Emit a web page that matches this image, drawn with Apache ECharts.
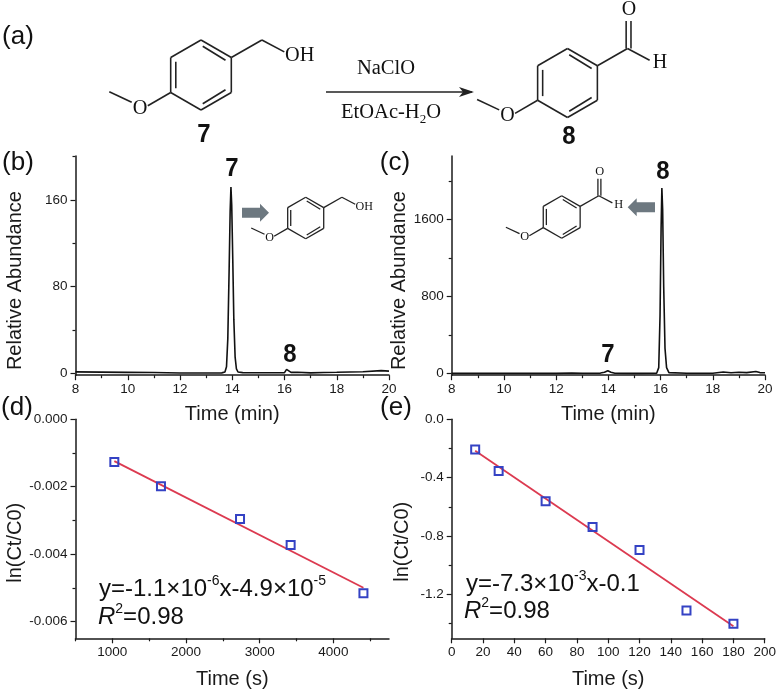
<!DOCTYPE html>
<html>
<head>
<meta charset="utf-8">
<style>
  html, body { margin: 0; padding: 0; background: #fff; }
  #main { width: 779px; height: 692px; }
</style>
<script src="https://cdn.jsdelivr.net/npm/echarts@6/dist/echarts.min.js"></script>
</head>
<body>
<div id="main"></div>
<script>
// chromatogram (b)
var timeB = [8, 9, 10, 11, 12, 13, 13.6, 13.72, 13.78, 13.83, 13.88, 13.92, 13.95, 13.98, 14.02, 14.06, 14.11, 14.16, 14.22, 14.4, 15, 16, 16.03, 16.08, 16.15, 16.25, 16.5, 17, 17.5, 18, 19, 19.7, 20];
var abundanceB = [1.3, 1.1, 0.9, 0.7, 0.3, 0.3, 0.4, 1.2, 6, 32, 95, 150, 172, 155, 105, 50, 15, 4, 1.2, 0.6, 0.5, 0.6, 1.8, 3.6, 1.8, 0.9, 1, 0.4, 0.8, 1, 1.5, 2.5, 2];
// chromatogram (c)
var timeC = [8, 10, 12, 12.6, 13, 13.7, 13.85, 13.98, 14.1, 14.25, 15, 15.85, 15.93, 15.98, 16.02, 16.05, 16.08, 16.12, 16.17, 16.23, 16.32, 17, 18, 18.4, 18.7, 19, 19.3, 19.65, 19.8, 20];
var abundanceC = [0, 0, 0, 4, 2, 3, 12, 28, 12, 2, 0, 2, 60, 600, 1500, 1925, 1700, 900, 260, 60, 8, 2, 2, 14, 6, 12, 8, 20, 8, 6];
// kinetics (d)
var timeD = [1027, 1660, 2733, 3420, 4408];
var lnD = [-0.00127, -0.00199, -0.00296, -0.00373, -0.00516];
var fitTimeD = [1027, 4408];
var fitLnD = [-0.00124, -0.0050];
// kinetics (e)
var timeE = [15, 30, 60, 90, 120, 150, 180];
var lnE = [-0.206, -0.354, -0.562, -0.738, -0.896, -1.31, -1.40];
var fitTimeE = [15, 180];
var fitLnE = [-0.215, -1.417];
// ticks
var ticksXB = [8, 10, 12, 14, 16, 18, 20];
var minorXB = [9, 11, 13, 15, 17, 19];
var ticksYB = [0, 80, 160];
var minorYB = [40, 120, 200];
var ticksYC = [0, 800, 1600];
var minorYC = [400, 1200, 2000];
var ticksXD = [1000, 2000, 3000, 4000];
var minorXD = [500, 1500, 2500, 3500, 4500];
var ticksYD = [0, -0.002, -0.004, -0.006];
var minorYD = [-0.001, -0.003, -0.005];
var ticksXE = [0, 20, 40, 60, 80, 100, 120, 140, 160, 180, 200];
var ticksYE = [0, -0.4, -0.8, -1.2];
var minorYE = [-0.2, -0.6, -1.0, -1.4];

var SANS = '"Liberation Sans", Arial, sans-serif';
var SERIF = '"Liberation Serif", "Times New Roman", serif';
var INK = '#1a1a1a';
var BLUE = '#3442c4';
var RED = '#dc3a50';
var GREY = '#6d7880';

var panels = [
  { left: 75.5, top: 156, width: 313.5, height: 219.2, xMin: 8, xMax: 20, yMin: -1.75, yMax: 200.6,
    xTicks: ticksXB, xMinor: minorXB, yTicks: ticksYB, yMinor: minorYB, xName: 'Time (min)', xGap: 29, yName: 'Relative Abundance', yGap: 50, yPad: 30, digits: 0 },
  { left: 451.7, top: 156, width: 313.3, height: 219.2, xMin: 8, xMax: 20, yMin: -19, yMax: 2258,
    xTicks: ticksXB, xMinor: minorXB, yTicks: ticksYC, yMinor: minorYC, xName: 'Time (min)', xGap: 29, yName: 'Relative Abundance', yGap: 37, yPad: 30, digits: 0 },
  { left: 75.5, top: 419.3, width: 313.5, height: 219, xMin: 500, xMax: 4755, yMin: -0.0065, yMax: 0,
    xTicks: ticksXD, xMinor: minorXD, yTicks: ticksYD, yMinor: minorYD, xName: 'Time (s)', xGap: 31, yName: 'ln(Ct/C0)', yGap: 49, yPad: 28, digits: 3 },
  { left: 451.7, top: 419.3, width: 313.3, height: 219, xMin: 0, xMax: 200, yMin: -1.5, yMax: 0,
    xTicks: ticksXE, xMinor: [], yTicks: ticksYE, yMinor: minorYE, xName: 'Time (s)', xGap: 31, yName: 'ln(Ct/C0)', yGap: 39, yPad: 26, digits: 1 }
];

var grids = [], xAxes = [], yAxes = [];
panels.forEach(function (p, i) {
  grids.push({ left: p.left, top: p.top, width: p.width, height: p.height });
  var line = { show: true, onZero: false, lineStyle: { color: INK, width: 1.5 } };
  // main axis carries line, labels and long ticks
  xAxes.push({
    type: 'value', gridIndex: i, min: p.xMin, max: p.xMax, splitLine: { show: false },
    axisLine: line,
    axisTick: { show: true, length: 5, customValues: p.xTicks, lineStyle: { color: INK, width: 1.2 } },
    axisLabel: {
      customValues: p.xTicks, margin: 7, color: INK, fontFamily: SANS, fontSize: 13.5,
      formatter: function (v) { return String(v); }
    },
    name: p.xName, nameLocation: 'middle', nameGap: p.xGap,
    nameTextStyle: { color: INK, fontFamily: SANS, fontSize: 20 }
  });
  yAxes.push({
    type: 'value', gridIndex: i, min: p.yMin, max: p.yMax, splitLine: { show: false },
    axisLine: line,
    axisTick: { show: true, length: 5, customValues: p.yTicks, lineStyle: { color: INK, width: 1.2 } },
    axisLabel: {
      customValues: p.yTicks, margin: 8, color: INK, fontFamily: SANS, fontSize: 13.5,
      formatter: function (v) { return Number(v).toFixed(p.digits); }
    },
    name: p.yName, nameLocation: 'middle', nameGap: p.yGap,
    nameTextStyle: { color: INK, fontFamily: SANS, fontSize: 20, padding: [0, p.yPad, 0, 0] }
  });
  // second axis on the same grid only draws the short ticks
  xAxes.push({
    type: 'value', gridIndex: i, min: p.xMin, max: p.xMax, position: 'bottom', splitLine: { show: false },
    axisLine: { show: false, onZero: false }, axisLabel: { show: false },
    axisTick: { show: p.xMinor.length > 0, length: 3, customValues: p.xMinor, lineStyle: { color: INK, width: 1.2 } }
  });
  yAxes.push({
    type: 'value', gridIndex: i, min: p.yMin, max: p.yMax, position: 'left', splitLine: { show: false },
    axisLine: { show: false, onZero: false }, axisLabel: { show: false },
    axisTick: { show: true, length: 3, customValues: p.yMinor, lineStyle: { color: INK, width: 1.2 } }
  });
});

function zip(a, b) {
  return a.map(function (v, i) { return [v, b[i]]; });
}
function trace(idx, xs, ys) {
  return { type: 'line', xAxisIndex: idx * 2, yAxisIndex: idx * 2, data: zip(xs, ys), showSymbol: false, symbol: 'none',
    lineStyle: { color: '#111', width: 1.6 }, animation: false };
}
function fit(idx, xs, ys) {
  return { type: 'line', xAxisIndex: idx * 2, yAxisIndex: idx * 2, data: zip(xs, ys), showSymbol: false, symbol: 'none',
    lineStyle: { color: RED, width: 1.8 }, animation: false };
}
function points(idx, xs, ys) {
  return { type: 'scatter', xAxisIndex: idx * 2, yAxisIndex: idx * 2, data: zip(xs, ys), symbol: 'rect', symbolSize: 8,
    itemStyle: { color: 'rgba(0,0,0,0)', borderColor: BLUE, borderWidth: 2, opacity: 1 }, z: 3, animation: false };
}

// small helpers for the drawn annotations
function seg(x1, y1, x2, y2, w) {
  return { type: 'line', shape: { x1: x1, y1: y1, x2: x2, y2: y2 }, style: { stroke: '#222', lineWidth: w }, silent: true };
}
function label(x, y, text, size, opts) {
  opts = opts || {};
  return { type: 'text', x: x, y: y, silent: true, scaleX: opts.scaleX || 1, style: {
    text: text, fill: opts.fill || '#111', fontFamily: opts.family || SANS, fontSize: size,
    fontWeight: opts.weight || 'normal', align: opts.align || 'center', verticalAlign: 'middle', rich: opts.rich
  } };
}
// hexagon with one vertex up, sizes in ring radius units
function molecule(cx, cy, r, kind) {
  var w = Math.max(1.3, r / 22), out = [];
  function L(a, b, c, d) { out.push(seg(cx + a * r, cy + b * r, cx + c * r, cy + d * r, w)); }
  var v = [[0, -1], [0.866, -0.5], [0.866, 0.5], [0, 1], [-0.866, 0.5], [-0.866, -0.5]];
  for (var i = 0; i < 6; i++) {
    var n = v[(i + 1) % 6];
    L(v[i][0], v[i][1], n[0], n[1]);
  }
  // inner double bonds
  L(0.05, -0.82, 0.7, -0.42);
  L(0.7, 0.42, 0.05, 0.82);
  L(-0.72, 0.38, -0.72, -0.38);
  var sz = r * 0.58, serif = { family: SERIF };
  // methoxy
  L(-0.866, 0.5, -1.52, 0.88);
  L(-1.98, 0.78, -2.62, 0.48);
  out.push(label(cx - 1.74 * r, cy + 0.95 * r, 'O', sz, serif));
  L(0.866, -0.5, 1.74, -1);
  if (kind === 'alcohol') {
    L(1.74, -1, 2.38, -0.66);
    out.push(label(cx + 2.4 * r, cy - 0.55 * r, 'OH', sz, { family: SERIF, align: 'left' }));
  } else {
    L(1.7, -1, 1.7, -1.8);
    L(1.84, -1, 1.84, -1.8);
    L(1.74, -1, 2.38, -0.66);
    out.push(label(cx + 1.78 * r, cy - 2.12 * r, 'O', sz, serif));
    out.push(label(cx + 2.68 * r, cy - 0.58 * r, 'H', sz, serif));
  }
  return out;
}
function blockArrow(tailX, tipX, y) {
  var d = tipX > tailX ? 1 : -1, headX = tipX - d * 9;
  return { type: 'polygon', silent: true, style: { fill: GREY }, shape: { points: [
    [tailX, y - 5], [headX, y - 5], [headX, y - 9], [tipX, y], [headX, y + 9], [headX, y + 5], [tailX, y + 5]
  ] } };
}

var eqRich = {
  sup: { fontSize: 14, fontFamily: SANS, fill: '#111', verticalAlign: 'top', lineHeight: 30 },
  base: { fontSize: 24, fontFamily: SANS, fill: '#111', lineHeight: 30 },
  it: { fontSize: 24, fontFamily: SANS, fontStyle: 'italic', fill: '#111', lineHeight: 30 }
};
var bold = { weight: 'bold', scaleX: 0.92 };

var extras = [];
extras.push(label(18, 37, '(a)', 26, {}));
extras.push(label(18, 163, '(b)', 26, {}));
extras.push(label(395, 163, '(c)', 26, {}));
extras.push(label(17, 408, '(d)', 26, {}));
extras.push(label(396, 408, '(e)', 26, {}));
extras.push(label(204, 135, '7', 26, bold));
extras.push(label(569, 137, '8', 26, bold));
extras.push(label(232, 169, '7', 26, bold));
extras.push(label(290, 355, '8', 26, bold));
extras.push(label(663, 172, '8', 26, bold));
extras.push(label(608, 355, '7', 26, bold));
extras.push(label(386, 69, 'NaClO', 20.5, { family: SERIF }));
extras.push(label(391, 113, '{b|EtOAc-H}{s|2}{b|O}', 20.5, { family: SERIF, rich: {
  b: { fontFamily: SERIF, fontSize: 20.5, fill: '#111', lineHeight: 26 },
  s: { fontFamily: SERIF, fontSize: 13, fill: '#111', verticalAlign: 'bottom', lineHeight: 26 }
} }));
extras.push(seg(326, 92, 472, 92, 1.5));
extras.push({ type: 'polygon', silent: true, style: { fill: '#222' }, shape: { points: [[474, 92], [459, 87], [463, 92], [459, 97]] } });
extras = extras.concat(molecule(201, 75, 35, 'alcohol'));
extras = extras.concat(molecule(567.5, 83, 34.5, 'aldehyde'));
extras = extras.concat(molecule(305.7, 218, 20.8, 'alcohol'));
extras = extras.concat(molecule(561.7, 217, 21.3, 'aldehyde'));
extras.push(blockArrow(242, 269, 212.7));
extras.push(blockArrow(655, 627.7, 207.3));
extras.push(label(99, 589, '{base|y=-1.1×10}{sup|-6}{base|x-4.9×10}{sup|-5}', 24, { align: 'left', rich: eqRich }));
extras.push(label(98, 617, '{it|R}{sup|2}{base|=0.98}', 24, { align: 'left', rich: eqRich }));
extras.push(label(466, 584, '{base|y=-7.3×10}{sup|-3}{base|x-0.1}', 24, { align: 'left', rich: eqRich }));
extras.push(label(464, 611, '{it|R}{sup|2}{base|=0.98}', 24, { align: 'left', rich: eqRich }));

var chart = echarts.init(document.getElementById('main'));
chart.setOption({
  animation: false,
  backgroundColor: '#fff',
  textStyle: { fontFamily: SANS },
  grid: grids,
  xAxis: xAxes,
  yAxis: yAxes,
  series: [
    trace(0, timeB, abundanceB),
    trace(1, timeC, abundanceC),
    fit(2, fitTimeD, fitLnD),
    points(2, timeD, lnD),
    fit(3, fitTimeE, fitLnE),
    points(3, timeE, lnE)
  ],
  graphic: { elements: extras }
});
</script>
</body>
</html>
